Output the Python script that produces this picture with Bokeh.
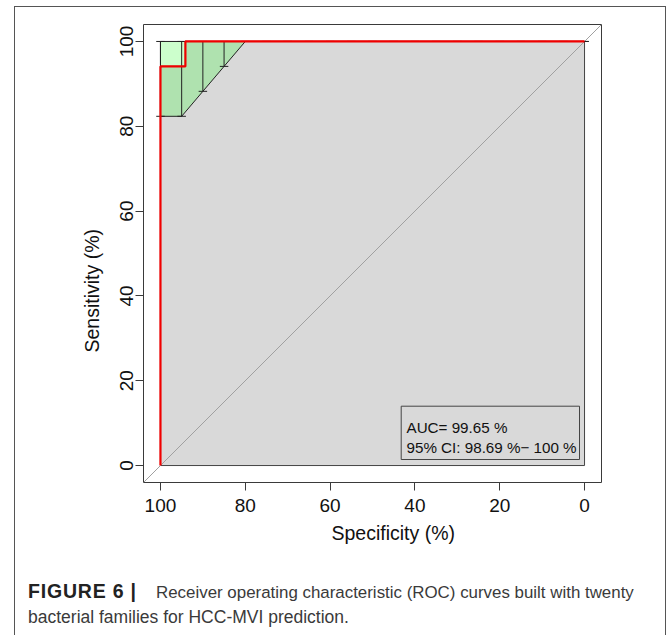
from bokeh.plotting import figure
from bokeh.models import Range1d, FixedTicker, Title, Div, Label
from bokeh.layouts import column
from bokeh.embed import file_html
from bokeh.resources import INLINE

# ---------------- data ----------------
roc_specificity = [100, 100, 94.12, 94.12, 0]
roc_sensitivity = [0, 94.12, 94.12, 100, 100]

ci_specificity = [100, 95, 90, 85, 80, 75, 70, 65, 60, 55, 50, 45, 40, 35, 30, 25, 20, 15, 10, 5, 0]
ci_sens_lower = [82.35, 82.35, 88.24, 94.12, 100, 100, 100, 100, 100, 100, 100,
                 100, 100, 100, 100, 100, 100, 100, 100, 100, 100]
ci_sens_upper = [100] * 21

shape_specificity = [100, 95, 90, 85, 80, 0]
shape_lower = [82.35, 82.35, 88.24, 94.12, 100, 100]
shape_upper = [100, 100, 100, 100, 100, 100]

tick_values = [0, 20, 40, 60, 80, 100]
auc_label = "AUC= 99.65 %"
ci_label = "95% CI: 98.69 %\u2212 100 %"
x_title = "Specificity (%)"
y_title = "Sensitivity (%)"
caption_bold = "FIGURE 6 |"
caption_line1 = "Receiver operating characteristic (ROC) curves built with twenty"
caption_line2 = "bacterial families for HCC-MVI prediction."

# ---------------- layout helpers ----------------
PAGE_FL, PAGE_FT, FW, FH = 143, 24, 458, 458     # frame in page pixels
BOX_L, BOX_T = 14, 6                             # outer border position
FIG_X0, FIG_Y0 = BOX_L + 1, BOX_T + 1            # figure origin inside border
FIG_W, FIG_H = 650, 553
CAP_H = 90
XMAX, XMIN, YMIN, YMAX = 104, -4, -4, 104


def px2x(px):
    return XMAX - (px - PAGE_FL) * (XMAX - XMIN) / FW


def py2y(py):
    return YMAX - (py - PAGE_FT) * (YMAX - YMIN) / FH


FONT = "Liberation Sans"
mb_left = PAGE_FL - FIG_X0
mb_top = PAGE_FT - FIG_Y0

p = figure(width=FIG_W, height=FIG_H, output_backend="svg", toolbar_location=None,
           x_range=Range1d(XMAX, XMIN), y_range=Range1d(YMIN, YMAX),
           min_border_left=mb_left, min_border_right=FIG_W - mb_left - FW,
           min_border_top=mb_top, min_border_bottom=FIG_H - mb_top - FH)
p.background_fill_color = "white"
p.border_fill_color = "white"
p.outline_line_color = "#3a3a3a"
p.outline_line_width = 1
p.grid.visible = False

for ax in (p.xaxis[0], p.yaxis[0]):
    ax.ticker = FixedTicker(ticks=tick_values)
    ax.axis_line_color = None
    ax.major_tick_in = 0
    ax.major_tick_out = 8
    ax.major_tick_line_color = "#3a3a3a"
    ax.minor_tick_line_color = None
    ax.major_label_text_font = FONT
    ax.major_label_text_font_size = "19px"
    ax.major_label_text_color = "#111111"
p.xaxis.major_label_standoff = 8
p.yaxis.major_label_standoff = 2
p.yaxis.major_label_orientation = "vertical"

# axis titles as side-panel titles (offset along the axis like the original)
p.add_layout(Title(text=x_title, align="left", offset=331 - PAGE_FL, standoff=10,
                   text_font=FONT, text_font_size="19.5px", text_font_style="normal",
                   text_color="#111111"), "below")
p.add_layout(Title(text=y_title, align="left", offset=(PAGE_FT + FH) - 352, standoff=29,
                   text_font=FONT, text_font_size="19.5px", text_font_style="normal",
                   text_color="#111111"), "left")

# AUC polygon (grey)
p.patch(roc_specificity + [0], roc_sensitivity + [0], fill_color="#d9d9d9",
        line_color="#444444", line_width=1)

# identity line
p.line([XMAX, XMIN], [XMIN, XMAX], line_color="#a0a0a0", line_width=1)

# CI shape (green)
p.patch(shape_specificity + shape_specificity[::-1], shape_lower + shape_upper[::-1],
        fill_color="#34ff34", fill_alpha=0.25, line_color="#222222", line_width=1)

# CI bars
p.segment(x0=ci_specificity, y0=ci_sens_lower, x1=ci_specificity, y1=ci_sens_upper,
          line_color="#222222", line_width=1)
p.segment(x0=[s + 1 for s in ci_specificity], y0=ci_sens_lower,
          x1=[s - 1 for s in ci_specificity], y1=ci_sens_lower,
          line_color="#222222", line_width=1)
p.segment(x0=[s + 1 for s in ci_specificity], y0=ci_sens_upper,
          x1=[s - 1 for s in ci_specificity], y1=ci_sens_upper,
          line_color="#222222", line_width=1)

# ROC curve
p.line(roc_specificity, roc_sensitivity, line_color="#f00000", line_width=2.2)

# legend box with AUC text
p.quad(left=[px2x(400.7)], right=[px2x(579)], top=[py2y(405.7)], bottom=[py2y(459)],
       fill_color=None, line_color="#444444", line_width=1)
p.add_layout(Label(x=px2x(406), y=py2y(426.7), text=auc_label, text_font=FONT,
                   text_font_size="15.2px", text_color="#111111",
                   text_baseline="alphabetic", text_align="left"))
p.add_layout(Label(x=px2x(406), y=py2y(446.7), text=ci_label, text_font=FONT,
                   text_font_size="15.2px", text_color="#111111",
                   text_baseline="alphabetic", text_align="left"))

# caption below the chart
caption_html = (
    '<div style="padding:14px 0 0 8px; font-family:\'Liberation Sans\', Arial, sans-serif;'
    ' font-size:16.9px; line-height:24px; color:#3a3a3a; white-space:nowrap;">'
    '<span style="display:inline-block; width:128px; font-weight:bold; font-size:19.5px;'
    ' letter-spacing:0.8px; color:#222222;">' + caption_bold + '</span>'
    + caption_line1 + '<br><span style="font-size:17.5px;">' + caption_line2
    + '</span></div>'
)
cap = Div(text=caption_html, width=FIG_W, height=CAP_H)

layout = column(p, cap, margin=(BOX_T, 0, 0, BOX_L), sizing_mode="fixed",
                width=FIG_W + 2, height=FIG_H + CAP_H + 2,
                styles={"border": "1px solid #555555", "background-color": "white"})

open("out.html", "w").write(file_html(layout, INLINE))
